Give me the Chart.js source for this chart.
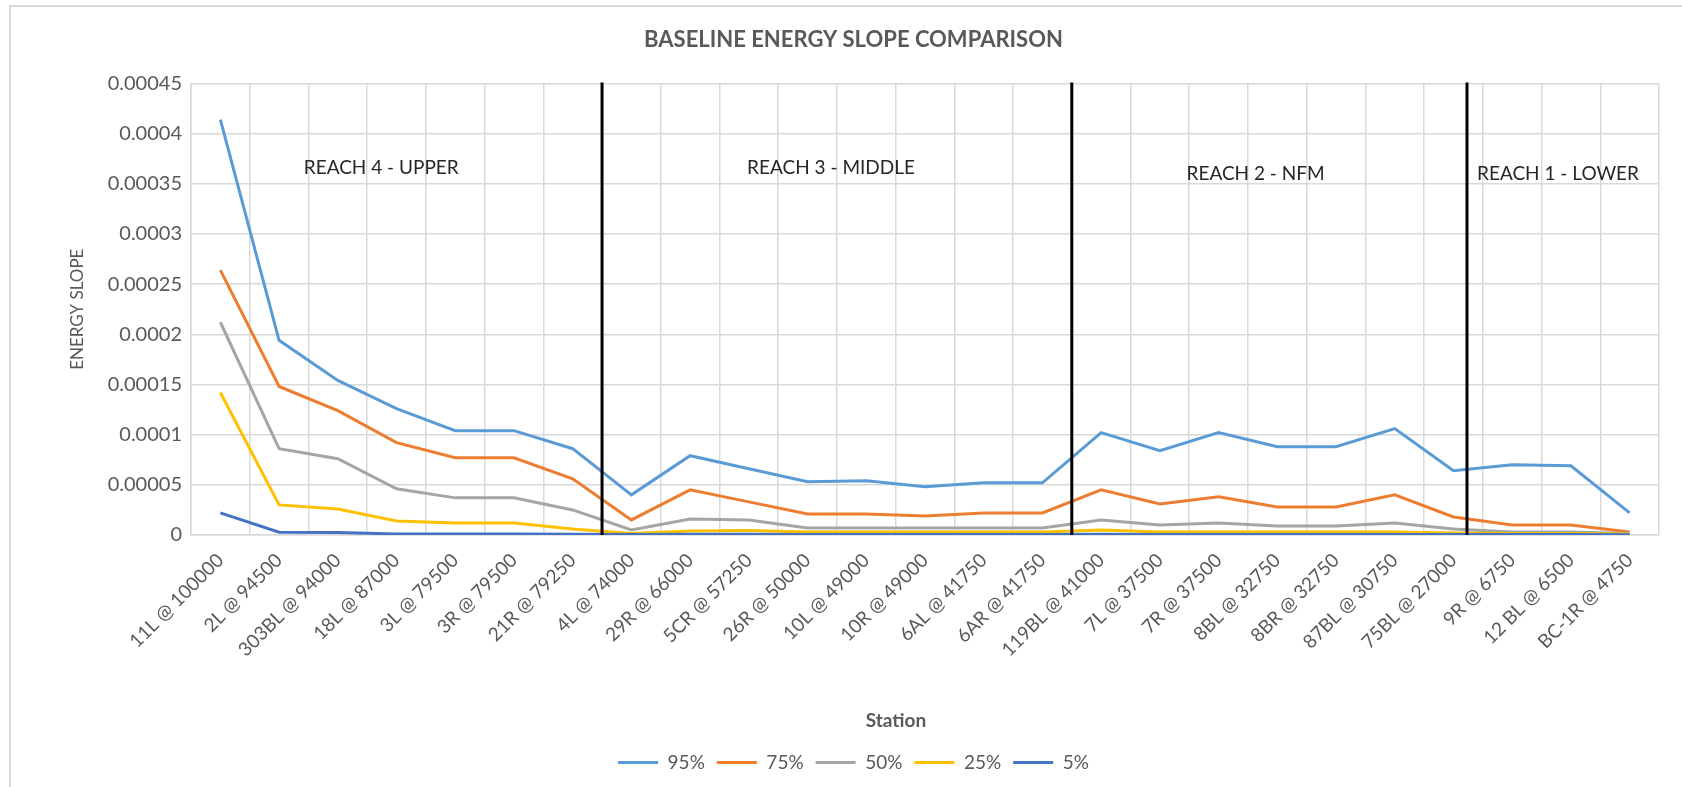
<!DOCTYPE html>
<html>
<head>
<meta charset="utf-8">
<script src="https://cdn.jsdelivr.net/npm/chart.js@4"></script>
<style>
  html, body { margin: 0; padding: 0; background: #fff; }
  #wrap { width: 1682px; height: 787px; position: relative; }
</style>
</head>
<body>
<div id="wrap"><canvas id="slopeChart"></canvas></div>
<script>
const stations = [
    '11L @ 100000', '2L @ 94500', '303BL @ 94000', '18L @ 87000', '3L @ 79500',
    '3R @ 79500', '21R @ 79250', '4L @ 74000', '29R @ 66000', '5CR @ 57250',
    '26R @ 50000', '10L @ 49000', '10R @ 49000', '6AL @ 41750', '6AR @ 41750',
    '119BL @ 41000', '7L @ 37500', '7R @ 37500', '8BL @ 32750', '8BR @ 32750',
    '87BL @ 30750', '75BL @ 27000', '9R @ 6750', '12 BL @ 6500', 'BC-1R @ 4750'
];

const p95 = [0.000414, 0.000194, 0.000154, 0.000126, 0.000104, 0.000104, 0.000086, 0.000040, 0.000079, 0.000066,
             0.000053, 0.000054, 0.000048, 0.000052, 0.000052, 0.000102, 0.000084, 0.000102, 0.000088, 0.000088,
             0.000106, 0.000064, 0.000070, 0.000069, 0.000022];
const p75 = [0.000264, 0.000148, 0.000124, 0.000092, 0.000077, 0.000077, 0.000056, 0.000015, 0.000045, 0.000033,
             0.000021, 0.000021, 0.000019, 0.000022, 0.000022, 0.000045, 0.000031, 0.000038, 0.000028, 0.000028,
             0.000040, 0.000018, 0.000010, 0.000010, 0.000003];
const p50 = [0.000212, 0.000086, 0.000076, 0.000046, 0.000037, 0.000037, 0.000025, 0.000005, 0.000016, 0.000015,
             0.000007, 0.000007, 0.000007, 0.000007, 0.000007, 0.000015, 0.000010, 0.000012, 0.000009, 0.000009,
             0.000012, 0.000006, 0.000003, 0.000003, 0.0000015];
const p25 = [0.000142, 0.000030, 0.000026, 0.000014, 0.000012, 0.000012, 0.000006, 0.0000015, 0.000004, 0.0000045,
             0.000003, 0.000003, 0.000003, 0.000003, 0.000003, 0.000005, 0.000003, 0.000003, 0.000003, 0.000003,
             0.000003, 0.000002, 0.0000015, 0.0000015, 0.000001];
const p5 = [0.000022, 0.0000028, 0.0000025, 0.000001, 0.000001, 0.000001, 0.0000008, 0.0000004, 0.0000008, 0.0000008,
            0.0000006, 0.0000006, 0.0000006, 0.0000006, 0.0000006, 0.0000008, 0.0000006, 0.0000006, 0.0000006, 0.0000006,
            0.0000006, 0.0000005, 0.0000004, 0.0000004, 0.0000003];

// reach dividers (in category units) and the reach captions
const dividers = [6.5, 14.5, 21.23];
const reachNames = ['REACH 4 - UPPER', 'REACH 3 - MIDDLE', 'REACH 2 - NFM', 'REACH 1 - LOWER'];
const reachAt = [2.74, 10.4, 17.63, 22.78];
const reachLevel = [0.000366, 0.000366, 0.00036, 0.00036];

const FONT = 'Lato, "Open Sans", sans-serif';
const GREY = '#595959';

const reachPlugin = {
    id: 'reaches',
    beforeDraw(chart) {
        const c = chart.ctx;
        c.save();
        c.fillStyle = '#fff';
        c.fillRect(0, 0, chart.width, chart.height);
        c.strokeStyle = '#d9d9d9';
        c.lineWidth = 2;
        c.beginPath();
        c.moveTo(10, 787);
        c.lineTo(10, 6);
        c.lineTo(1682, 6);
        c.stroke();
        c.restore();
    },
    afterDatasetsDraw(chart) {
        const c = chart.ctx;
        const x = chart.scales.x, y = chart.scales.y;
        c.save();
        c.strokeStyle = '#000';
        c.lineWidth = 3;
        dividers.forEach(d => {
            const px = x.getPixelForValue(d);
            c.beginPath();
            c.moveTo(px, chart.chartArea.top - 1);
            c.lineTo(px, chart.chartArea.bottom);
            c.stroke();
        });
        c.fillStyle = '#262626';
        c.font = '19px ' + FONT;
        c.textAlign = 'center';
        c.textBaseline = 'middle';
        reachNames.forEach((name, i) => {
            c.fillText(name, x.getPixelForValue(reachAt[i]), y.getPixelForValue(reachLevel[i]));
        });
        // axis title, sits a little left of the plot centre like the original
        c.fillStyle = GREY;
        c.font = 'bold 19px ' + FONT;
        c.fillText('Station', 896, 721);
        c.restore();
    }
};

const series = [
    { label: '95%', data: p95, color: '#5b9bd5' },
    { label: '75%', data: p75, color: '#ed7d31' },
    { label: '50%', data: p50, color: '#a5a5a5' },
    { label: '25%', data: p25, color: '#ffc000' },
    { label: '5%', data: p5, color: '#4472c4' }
];

const ctx = document.getElementById('slopeChart').getContext('2d');
const slopeChart = new Chart(ctx, {
    type: 'line',
    data: {
        labels: stations,
        datasets: series.map((s, i) => ({
            label: s.label,
            data: s.data,
            borderColor: s.color,
            backgroundColor: s.color,
            borderWidth: 3,
            pointRadius: 0,
            tension: 0,
            order: series.length - i
        }))
    },
    plugins: [reachPlugin],
    options: {
        responsive: true,
        maintainAspectRatio: false,
        animation: false,
        layout: {
            padding: { left: 48, right: 23, top: 0, bottom: 5 }
        },
        scales: {
            x: {
                offset: true,
                grid: { offset: true, color: '#d9d9d9', lineWidth: 1.5, drawTicks: false },
                border: { color: '#d9d9d9', width: 1.5 },
                ticks: {
                    autoSkip: false,
                    maxRotation: 45,
                    minRotation: 45,
                    padding: 14,
                    color: GREY,
                    font: { family: FONT, size: 19 }
                },
                afterFit(scale) { scale.height = 206; }
            },
            y: {
                min: 0,
                max: 0.00045,
                grid: { color: '#d9d9d9', lineWidth: 1.5, drawTicks: false },
                border: { color: '#d9d9d9', width: 1.5 },
                ticks: {
                    stepSize: 0.00005,
                    padding: 9,
                    color: GREY,
                    font: { family: FONT, size: 20 },
                    callback: v => String(parseFloat(v.toFixed(5)))
                },
                title: {
                    display: true,
                    text: 'ENERGY SLOPE',
                    color: GREY,
                    font: { family: FONT, size: 17 },
                    padding: { top: 19, bottom: 0 }
                },
                afterFit(scale) { scale.width = 143; }
            }
        },
        plugins: {
            title: {
                display: true,
                text: 'BASELINE ENERGY SLOPE COMPARISON',
                color: GREY,
                font: { family: FONT, size: 22, weight: 'bold' },
                padding: { top: 27, bottom: 30 }
            },
            legend: {
                position: 'bottom',
                labels: {
                    usePointStyle: true,
                    pointStyle: 'line',
                    pointStyleWidth: 40,
                    padding: 12,
                    color: GREY,
                    font: { family: FONT, size: 19 },
                    sort: (a, b) => a.datasetIndex - b.datasetIndex
                }
            },
            tooltip: { enabled: false }
        }
    }
});
</script>
</body>
</html>
